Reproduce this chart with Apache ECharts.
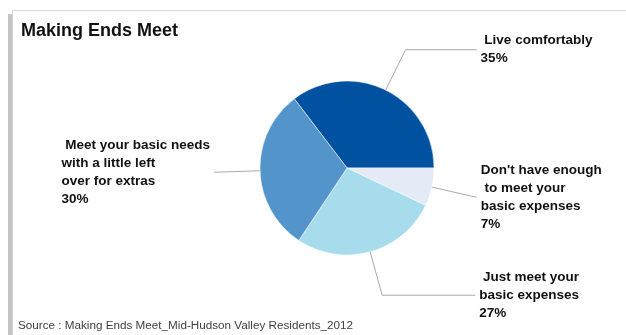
<!DOCTYPE html>
<html>
<head>
<meta charset="utf-8">
<script src="https://cdn.jsdelivr.net/npm/echarts@6/dist/echarts.min.js"></script>
<style>
  html, body { margin: 0; padding: 0; background: #fff; }
  #chart { width: 626px; height: 335px; }
</style>
</head>
<body>
<div id="chart"></div>
<script>
// slices in drawing order, clockwise from the top-left
const categories = ["Live comfortably", "Don't have enough to meet your basic expenses", "Just meet your basic expenses", "Meet your basic needs with a little left over for extras"];
const values = [35, 7, 27, 30];
const labelTexts = [
  " Live comfortably\n35%",
  "Don't have enough\n to meet your\nbasic expenses\n7%",
  " Just meet your\nbasic expenses\n27%",
  " Meet your basic needs\nwith a little left\nover for extras\n30%"
];
const colors = ["#0052a1", "#e4eaf6", "#a6dceb", "#5394cb"];
const secondLegs = [71, 1, 93, 1];

const total = values.reduce((a, b) => a + b, 0);
const chart = echarts.init(document.getElementById("chart"), null, {renderer: "canvas"});

const pieData = categories.map((name, i) => {
    return {
        name: name,
        value: values[i],
        itemStyle: {color: colors[i]},
        label: {formatter: "{t|" + labelTexts[i] + "}"},
        labelLine: {length: 45, length2: secondLegs[i]}
    };
});

chart.setOption({
    animation: false,
    title: {
        text: "Making Ends Meet",
        left: 16,
        top: 17,
        textStyle: {fontFamily: "Liberation Sans, Arial", fontSize: 18, fontWeight: "bold", color: "#111"}
    },
    graphic: [
        {type: "rect", shape: {x: 8, y: 14, width: 4, height: 330}, style: {fill: "#c4c4c4"}, silent: true},
        {type: "line", shape: {x1: 12.5, y1: 10, x2: 12.5, y2: 335}, style: {stroke: "#d4d4d4", lineWidth: 1}, silent: true},
        {type: "line", shape: {x1: 12, y1: 10.5, x2: 626, y2: 10.5}, style: {stroke: "#d8d8d8", lineWidth: 1}, silent: true},
        {
            type: "text", left: 18, top: 320,
            style: {text: "Source : Making Ends Meet_Mid-Hudson Valley Residents_2012", fontFamily: "Liberation Sans, Arial", fontSize: 11.7, fill: "#404040"}
        }
    ],
    series: [
        {
            type: "pie",
            center: [347, 168],
            radius: 87,
            startAngle: values[0] / total * 360,
            clockwise: true,
            avoidLabelOverlap: false,
            itemStyle: {borderColor: "#fff", borderWidth: 0.5},
            label: {
                show: true,
                position: "outer",
                overflow: "none",
                bleedMargin: 0,
                distanceToLabelLine: 4,
                rich: {
                    t: {
                        align: "left",
                        fontFamily: "Liberation Sans, Arial",
                        fontSize: 13.5,
                        fontWeight: "bold",
                        lineHeight: 18,
                        color: "#111"
                    }
                }
            },
            labelLine: {
                show: true,
                lineStyle: {color: "#aaaaaa", width: 1}
            },
            emphasis: {disabled: true},
            data: pieData
        }
    ]
});
</script>
</body>
</html>
